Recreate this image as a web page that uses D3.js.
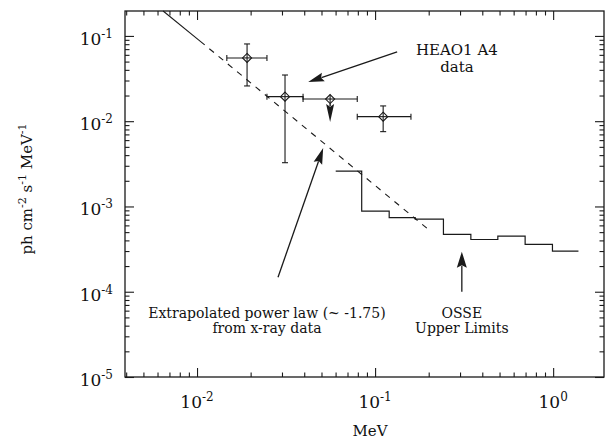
<!DOCTYPE html>
<html>
<head>
<meta charset="utf-8">
<script src="https://cdn.jsdelivr.net/npm/d3@7.9.0/dist/d3.min.js"></script>
<style>
  body { margin: 0; background: #fff; }
  text { font-family: "DejaVu Serif", "Liberation Serif", serif; fill: #111; }
</style>
</head>
<body>
<div id="chart"></div>
<script>
// HEAO1 A4 points (MeV, ph cm-2 s-1 MeV-1)
const heaoE = [0.0191, 0.0312, 0.0559, 0.111];
const heaoELo = [0.0147, 0.0247, 0.0394, 0.0794];
const heaoEHi = [0.0247, 0.0394, 0.0794, 0.159];
const heaoFlux = [0.0552, 0.0194, 0.0182, 0.0113];
const heaoFluxLo = [0.0259, 0.00326, null, 0.00754];
const heaoFluxHi = [0.0805, 0.0348, null, 0.0151];
const heaoUpperTip = [null, null, 0.0098, null];

// OSSE upper limits, step histogram
const osseEdges = [0.0601, 0.0841, 0.120, 0.168, 0.242, 0.345, 0.489, 0.696, 0.991, 1.387];
const osseLimit = [0.0026, 0.00088, 0.00074, 0.00071, 0.00047, 0.00041, 0.00045, 0.00036, 0.00030];

// extrapolated power law (~ -1.75): solid part then dashed part
const powerLawE = [0.00645, 0.0104, 0.198];
const powerLawFlux = [0.196, 0.087, 0.000543];

const xMajor = [0.01, 0.1, 1];
const xMajorExp = ["-2", "-1", "0"];
const yMajor = [1e-5, 1e-4, 1e-3, 1e-2, 1e-1];
const yMajorExp = ["-5", "-4", "-3", "-2", "-1"];

const width = 605, height = 440;
const margin = { top: 11, right: 1, bottom: 63, left: 125 };

const svg = d3.select("#chart").append("svg")
    .attr("width", width)
    .attr("height", height);

const x = d3.scaleLog()
    .domain([0.00394, 1.93])
    .range([margin.left, width - margin.right]);

const y = d3.scaleLog()
    .domain([1e-5, 0.196])
    .range([height - margin.bottom, margin.top]);

const x0 = margin.left, x1 = width - margin.right;
const y0 = height - margin.bottom, y1 = margin.top;

function minorTicks(scale) {
    const [a, b] = scale.domain();
    const out = [];
    for (let e = Math.floor(Math.log10(a)); e <= Math.ceil(Math.log10(b)); e++) {
        for (let k = 2; k <= 9; k++) {
            const v = k * Math.pow(10, e);
            if (v >= a && v <= b) out.push(v);
        }
    }
    return out;
}

const stroke = "#1a1a1a";

function drawAxis(axisFn, scale, transform, values, size) {
    const g = svg.append("g")
        .attr("class", "axis")
        .attr("transform", transform)
        .call(axisFn(scale).tickValues(values).tickSize(-size).tickFormat(""));
    g.select(".domain").remove();
    g.selectAll("line").attr("stroke", stroke).attr("stroke-width", 1.1);
}

// inward ticks on all four sides
drawAxis(d3.axisBottom, x, `translate(0,${y0})`, xMajor, 9);
drawAxis(d3.axisBottom, x, `translate(0,${y0})`, minorTicks(x), 4.5);
drawAxis(d3.axisTop, x, `translate(0,${y1})`, xMajor, 9);
drawAxis(d3.axisTop, x, `translate(0,${y1})`, minorTicks(x), 4.5);
drawAxis(d3.axisLeft, y, `translate(${x0},0)`, yMajor, 9);
drawAxis(d3.axisLeft, y, `translate(${x0},0)`, minorTicks(y), 4.5);
drawAxis(d3.axisRight, y, `translate(${x1},0)`, yMajor, 9);
drawAxis(d3.axisRight, y, `translate(${x1},0)`, minorTicks(y), 4.5);

svg.append("rect")
    .attr("x", x0)
    .attr("y", y1)
    .attr("width", x1 - x0)
    .attr("height", y0 - y1)
    .attr("fill", "none")
    .attr("stroke", stroke)
    .attr("stroke-width", 1.3);

// tick labels
const xLab = svg.append("g").selectAll("text")
    .data(xMajor)
    .enter().append("text")
    .attr("x", d => x(d))
    .attr("y", y0 + 31)
    .attr("text-anchor", "middle")
    .style("font-size", "17px");
xLab.append("tspan").text("10");
xLab.append("tspan").attr("dy", -7).style("font-size", "12px").text((d, i) => xMajorExp[i]);

const yLab = svg.append("g").selectAll("text")
    .data(yMajor)
    .enter().append("text")
    .attr("x", x0 - 12)
    .attr("y", d => y(d) + 9)
    .attr("text-anchor", "end")
    .style("font-size", "17px");
yLab.append("tspan").text("10");
yLab.append("tspan").attr("dy", -7).style("font-size", "12px").text((d, i) => yMajorExp[i]);

// axis titles
svg.append("text")
    .attr("x", 370)
    .attr("y", height - 4)
    .attr("text-anchor", "middle")
    .style("font-size", "15px")
    .text("MeV");

const yTitle = svg.append("text")
    .attr("transform", `translate(32,189) rotate(-90)`)
    .attr("text-anchor", "middle")
    .style("font-size", "15px");
yTitle.append("tspan").text("ph cm");
yTitle.append("tspan").attr("dy", -6).style("font-size", "11px").text("-2");
yTitle.append("tspan").attr("dy", 6).text(" s");
yTitle.append("tspan").attr("dy", -6).style("font-size", "11px").text("-1");
yTitle.append("tspan").attr("dy", 6).text("  MeV");
yTitle.append("tspan").attr("dy", -6).style("font-size", "11px").text("-1");

// power law line
const plPts = powerLawE.map((e, i) => [x(e), y(powerLawFlux[i])]);
svg.append("path")
    .attr("d", d3.line()(plPts.slice(0, 2)))
    .attr("fill", "none")
    .attr("stroke", stroke)
    .attr("stroke-width", 1.1);
svg.append("path")
    .attr("d", d3.line()(plPts.slice(1)))
    .attr("fill", "none")
    .attr("stroke", stroke)
    .attr("stroke-width", 1.1)
    .attr("stroke-dasharray", "6,6");

// OSSE histogram
const ossePts = osseEdges.map((e, i) => [x(e), y(osseLimit[Math.min(i, osseLimit.length - 1)])]);
svg.append("path")
    .attr("d", d3.line().curve(d3.curveStepAfter)(ossePts))
    .attr("fill", "none")
    .attr("stroke", stroke)
    .attr("stroke-width", 1.2);

// HEAO points with error bars
const heao = heaoE.map((e, i) => ({
    e: e, lo: heaoELo[i], hi: heaoEHi[i],
    f: heaoFlux[i], flo: heaoFluxLo[i], fhi: heaoFluxHi[i], tip: heaoUpperTip[i]
}));

const pts = svg.append("g")
    .attr("stroke", stroke)
    .attr("stroke-width", 1.1)
    .attr("fill", "none");

heao.forEach(d => {
    const cx = x(d.e), cy = y(d.f);
    pts.append("line").attr("x1", x(d.lo)).attr("x2", x(d.hi)).attr("y1", cy).attr("y2", cy);
    pts.append("line").attr("x1", x(d.lo)).attr("x2", x(d.lo)).attr("y1", cy - 3).attr("y2", cy + 3);
    pts.append("line").attr("x1", x(d.hi)).attr("x2", x(d.hi)).attr("y1", cy - 3).attr("y2", cy + 3);
    if (d.flo !== null) {
        pts.append("line").attr("x1", cx).attr("x2", cx).attr("y1", y(d.flo)).attr("y2", y(d.fhi));
        pts.append("line").attr("x1", cx - 3).attr("x2", cx + 3).attr("y1", y(d.flo)).attr("y2", y(d.flo));
        pts.append("line").attr("x1", cx - 3).attr("x2", cx + 3).attr("y1", y(d.fhi)).attr("y2", y(d.fhi));
    }
    pts.append("path")
        .attr("transform", `translate(${cx},${cy})`)
        .attr("d", "M0,-4.5L4.5,0L0,4.5L-4.5,0Z")
        .attr("fill", "#fff");
    // crosshair through the marker
    pts.append("line").attr("x1", cx - 4.5).attr("x2", cx + 4.5).attr("y1", cy).attr("y2", cy);
    pts.append("line").attr("x1", cx).attr("x2", cx).attr("y1", cy - 4.5).attr("y2", cy + 4.5);
});

// arrows
function arrow(ax, ay, bx, by, len, half, w) {
    const dx = bx - ax, dy = by - ay;
    const L = Math.sqrt(dx * dx + dy * dy);
    const ux = dx / L, uy = dy / L;
    const baseX = bx - ux * len, baseY = by - uy * len;
    svg.append("line")
        .attr("x1", ax).attr("y1", ay)
        .attr("x2", baseX + ux * 2).attr("y2", baseY + uy * 2)
        .attr("stroke", stroke)
        .attr("stroke-width", w);
    svg.append("path")
        .attr("d", `M${bx},${by}L${baseX - uy * half},${baseY + ux * half}L${baseX + ux * len * 0.15},${baseY + uy * len * 0.15}L${baseX + uy * half},${baseY - ux * half}Z`)
        .attr("fill", stroke);
}

heao.filter(d => d.tip !== null).forEach(d => {
    arrow(x(d.e), y(d.f) + 4.5, x(d.e), y(d.tip), 18, 4, 1.4);
});

arrow(x(0.133), y(0.0649), x(0.0421), y(0.0288), 16, 4.5, 1.3);
arrow(x(0.0285), y(0.000148), x(0.0511), y(0.00484), 16, 4.5, 1.3);
arrow(x(0.307), y(1e-4), x(0.307), y(2.95e-4), 16, 5, 1.3);

// annotation text
function label(xv, yv, lines, size, gap) {
    const t = svg.append("text")
        .attr("x", x(xv))
        .attr("y", y(yv))
        .attr("text-anchor", "middle")
        .style("font-size", size + "px");
    lines.forEach((s, i) => {
        t.append("tspan").attr("x", x(xv)).attr("dy", i === 0 ? 0 : gap).text(s);
    });
}

label(0.288, 0.0598, ["HEAO1 A4", "data"], 15, 17);
label(0.0247, 4.9e-5, ["Extrapolated power law (~ -1.75)", "from x-ray data"], 14, 15);
label(0.307, 4.9e-5, ["OSSE", "Upper Limits"], 14, 15);
</script>
</body>
</html>
